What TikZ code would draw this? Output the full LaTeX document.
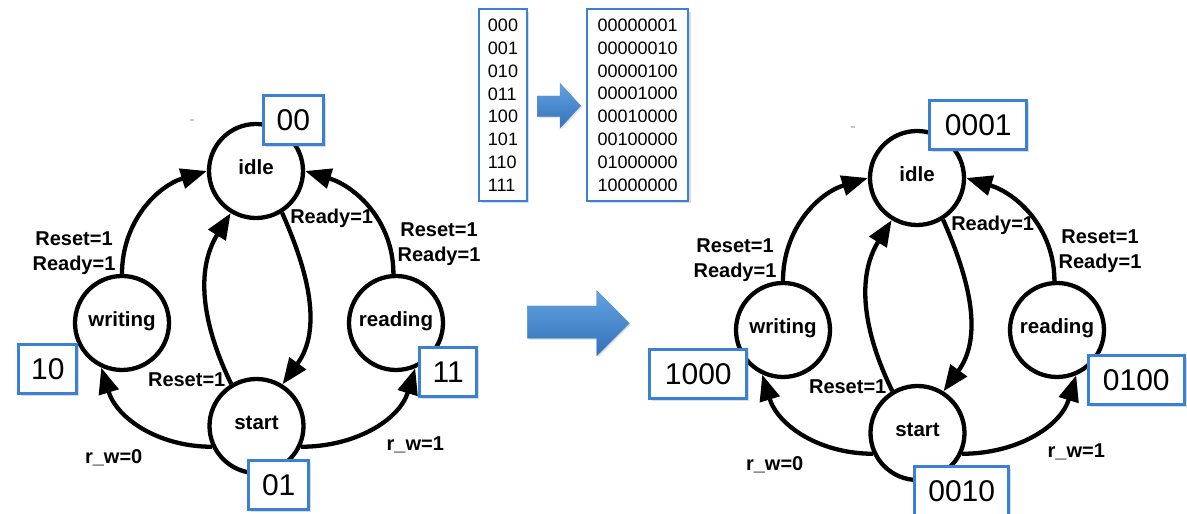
\documentclass[tikz,border=0pt]{standalone}
\usepackage{fontspec}
\setmainfont{Liberation Sans}
\usetikzlibrary{arrows.meta,shadows}

\definecolor{boxblue}{RGB}{58,128,212}
\definecolor{arrowtop}{RGB}{98,163,226}
\definecolor{arrowbot}{RGB}{52,112,184}

\tikzset{
  fsmstate/.style={circle, draw, line width=4.3pt, fill=white, minimum size=94pt,
    inner sep=0pt, font=\fontsize{20.5}{24}\selectfont\bfseries,
    text height=0.72em, text depth=0pt},
  edgearc/.style={line width=4.3pt, -{Triangle[length=26pt,width=20pt]}},
  condlabel/.style={font=\fontsize{20}{25.5}\selectfont\bfseries, inner sep=0pt, align=center},
  shadowed/.style={drop shadow={shadow xshift=2.5pt, shadow yshift=-2.5pt, opacity=0.28}},
  codebox/.style={shadowed, draw=boxblue, line width=3pt, fill=white, inner sep=0pt,
    minimum height=49pt, font=\fontsize{30}{36}\selectfont},
  tablebox/.style={shadowed, draw=boxblue, line width=2pt, fill=white, inner sep=0pt,
    minimum height=191.4pt, align=left, font=\fontsize{18}{22.86}\selectfont},
  blockarrow/.style={top color=arrowtop, bottom color=arrowbot, draw=arrowbot!80, line width=0.4pt,
    drop shadow={shadow xshift=1.5pt, shadow yshift=-1.5pt, opacity=0.2}},
  % the four-state controller: idle, writing, reading, start
  fsm/.pic={
    \draw[gray!45, line width=1.2pt] (190,394) -- (194,394);
    \node[fsmstate] (idle)    at (256,343)  {idle};
    \node[fsmstate] (writing) at (122,191)  {writing};
    \node[fsmstate] (reading) at (396,191)  {reading};
    \node[fsmstate] (start)   at (256.5,88) {start};
    \draw[edgearc] (writing.north) to[out=90,in=197] (idle.west);
    \draw[edgearc] (reading.93) to[out=90,in=-17] (idle.east);
    \draw[edgearc] (idle.-58) to[out=-66,in=54] (start.58);
    \draw[edgearc] (start.121) to[out=116,in=238] (idle.-121);
    \draw[edgearc] (start.205) to[out=180,in=-73] (writing.245);
    \draw[edgearc] (start.-25) to[out=0,in=-107] (reading.-67);
    \node[condlabel, anchor=north] (wlab) at (74,282.9)    {Reset=1\\Ready=1};
    \node[condlabel, anchor=base]  (ilab) at (331.7,290.1) {Ready=1};
    \node[condlabel, anchor=north] (rlab) at (439,291.9)   {Reset=1\\Ready=1};
    \node[condlabel, anchor=base]  (slab) at (186.7,127.5) {Reset=1};
    \node[condlabel, anchor=base]  (w0)   at (113.7,50.1)  {r\_w=0};
    \node[condlabel, anchor=base]  (w1)   at (415.3,63.5)  {r\_w=1};
  }
}

\begin{document}
\begin{tikzpicture}[x=1pt,y=1pt]
  \useasboundingbox (0,0) rectangle (1187,514);
  \clip (0,0) rectangle (1187,514);
  \fill[white] (0,0) rectangle (1187,514);

  % binary encoding (left) and one-hot encoding (right)
  \pic (L) at (0,0) {fsm};
  \pic (R) at (661,-7) {fsm};

  % binary state codes
  \node[codebox, minimum width=60pt] (c00) at (293.3,393.7) {00};
  \node[codebox, minimum width=58pt] (c10) at (47.8,145.3)  {10};
  \node[codebox, minimum width=57pt] (c11) at (448.3,141.8) {11};
  \node[codebox, minimum width=60pt] (c01) at (278.7,29)    {01};

  % one-hot state codes
  \node[codebox, minimum width=97pt] (c0001) at (978.3,388.5)  {0001};
  \node[codebox, minimum width=97pt] (c1000) at (698.3,140.2)  {1000};
  \node[codebox, minimum width=96pt] (c0100) at (1136.3,133.7) {0100};
  \node[codebox, minimum width=94pt] (c0010) at (961.7,22.7)   {0010};

  % code conversion tables
  \node[tablebox, minimum width=47.4pt] (tbin) at (503,408.8)
    {000\\001\\010\\011\\100\\101\\110\\111};
  \node[tablebox, minimum width=101.3pt] (thot) at (637.7,408.8)
    {00000001\\00000010\\00000100\\00001000\\00010000\\00100000\\01000000\\10000000};

  % block arrows
  \path[blockarrow] (537.3,397.3) -- (560,397.3) -- (560,385.7) -- (580.7,408.2)
    -- (560,430.7) -- (560,418) -- (537.3,418) -- cycle;
  \path[blockarrow] (527.3,175.7) -- (596.7,175.7) -- (596.7,158) -- (629.3,190.7)
    -- (596.7,223.3) -- (596.7,208) -- (527.3,208) -- cycle;
\end{tikzpicture}
\end{document}
